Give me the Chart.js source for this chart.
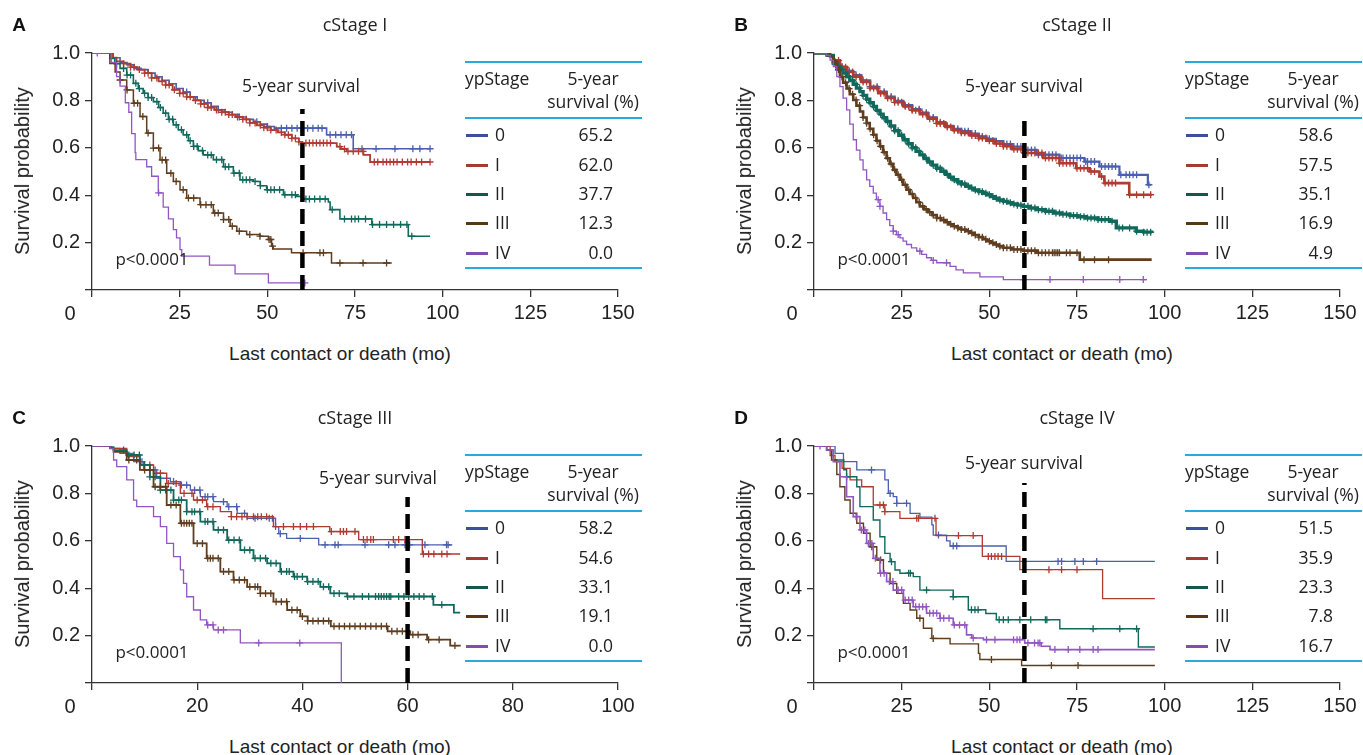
<!DOCTYPE html>
<html><head><meta charset="utf-8">
<script src="https://cdn.jsdelivr.net/npm/chart.js@4.4.0/dist/chart.umd.min.js"></script>
<style>
html,body{margin:0;padding:0;background:#fff;}
#wrap{position:relative;width:1363px;height:755px;overflow:hidden;background:#fff;}
canvas{position:absolute;}
.t{position:absolute;transform:translate(-50%,-50%);white-space:nowrap;color:#222;line-height:1;}
.ttl{font-family:'Open Sans';font-size:18px;}
.let{font-family:'Liberation Sans';font-weight:bold;font-size:19px;color:#111;}
.axx{font-family:'Liberation Sans';font-size:19px;}
.axy{font-family:'Liberation Sans';font-size:20px;transform:translate(-50%,-50%) rotate(-90deg);}
.zero{font-family:'Liberation Sans';font-size:20px;}
.note{font-family:'Open Sans';font-size:17.5px;}
.pv{font-family:'Open Sans';font-size:17px;}
.tbl{position:absolute;width:177px;height:210px;font-family:'Open Sans';font-size:17.5px;color:#222;}
.tbl .hl{position:absolute;left:0;width:177px;height:2px;background:#2aa9df;}
.tbl .c{position:absolute;transform:translateY(-50%);line-height:1;white-space:nowrap;}
.tbl .cc{position:absolute;transform:translate(-50%,-50%);line-height:1;white-space:nowrap;}
.tbl .sw{position:absolute;left:1px;width:22px;height:3px;}
.tbl .v{position:absolute;right:29px;transform:translateY(-50%);line-height:1;}
</style>
</head><body>
<div id="wrap"></div>
<script>
// ---------------- DATA ----------------
const STAGE_LABELS = ['0','I','II','III','IV'];
const PANEL_TITLES = ['cStage I','cStage II','cStage III','cStage IV'];
const PANEL_LETTERS = ['A','B','C','D'];
const FIVE_YEAR_A = ['65.2','62.0','37.7','12.3','0.0'];
const FIVE_YEAR_B = ['58.6','57.5','35.1','16.9','4.9'];
const FIVE_YEAR_C = ['58.2','54.6','33.1','19.1','0.0'];
const FIVE_YEAR_D = ['51.5','35.9','23.3','7.8','16.7'];
const X_MAX_AB = 150, X_STEP_AB = 25;
const X_MAX_C = 100, X_STEP_C = 20;
const X_MAX_D = 150, X_STEP_D = 25;
const CUTOFF_MONTH = 60;

// Panel A (cStage I): [month, survival]
const A0 = [[0,1],[5,1],[6,0.98],[8,0.96],[10,0.95],[12,0.935],[14,0.93],[16,0.915],[18,0.9],[20,0.885],[22,0.87],[24,0.85],[26,0.835],[28,0.815],[30,0.8],[32,0.79],[34,0.775],[36,0.76],[38,0.75],[40,0.74],[42,0.73],[44,0.72],[46,0.71],[48,0.7],[50,0.69],[52,0.683],[66.9,0.655],[74.5,0.596],[96.4,0.596]];
const A1 = [[0,1],[5,1],[6,0.98],[7,0.965],[9,0.955],[11,0.94],[13,0.93],[15,0.915],[17,0.895],[19,0.88],[21,0.865],[23,0.845],[25,0.83],[27,0.815],[29,0.8],[31,0.785],[33,0.77],[35,0.76],[37,0.75],[39,0.74],[41,0.73],[43,0.72],[45,0.705],[47,0.695],[49,0.685],[51,0.675],[53,0.665],[55,0.655],[57,0.64],[59,0.625],[60,0.62],[69.8,0.605],[71,0.595],[72.6,0.585],[77.4,0.57],[79.3,0.54],[96.4,0.54]];
const A2 = [[0,1],[4,1],[5.1,0.977],[6.5,0.955],[8,0.935],[9.9,0.907],[11.8,0.872],[13.2,0.85],[14.6,0.83],[16,0.812],[17.5,0.795],[19,0.77],[20.3,0.746],[21.8,0.72],[23.2,0.697],[24.6,0.676],[26,0.655],[27.5,0.63],[28.9,0.606],[30.3,0.588],[31.7,0.57],[34.6,0.55],[37.5,0.52],[40.3,0.493],[42.2,0.465],[46,0.458],[48,0.44],[49.8,0.423],[54.6,0.402],[58.4,0.395],[60.3,0.384],[67.4,0.371],[67.9,0.339],[70.7,0.3],[79.8,0.276],[90.2,0.227],[96.4,0.227]];
const A3 = [[0,1],[4,1],[5.1,0.956],[6.6,0.92],[8,0.886],[9.9,0.844],[11.8,0.788],[13.7,0.732],[15.6,0.662],[17.5,0.599],[19.4,0.549],[21.3,0.493],[23.2,0.458],[25.1,0.423],[27,0.388],[30.8,0.36],[34.6,0.325],[37.5,0.297],[39.4,0.269],[41.3,0.248],[44.1,0.234],[47.9,0.227],[50.3,0.213],[51.2,0.185],[51.7,0.173],[56.9,0.157],[68.3,0.114],[85.5,0.114]];
const A4 = [[0,1],[4,1],[5.5,0.96],[7,0.9],[8,0.86],[9.5,0.79],[10.5,0.75],[11.3,0.66],[12.3,0.58],[12.5,0.55],[15.6,0.52],[17,0.48],[18.9,0.41],[20.3,0.35],[21.8,0.3],[23.2,0.255],[24.1,0.22],[25.1,0.17],[25.6,0.143],[33.5,0.105],[40.8,0.068],[50.3,0.03],[60.7,0.03]];
// censored months
const A0c = [27,33,36,42,47,50,54,55.5,57,58.5,60,61.5,63,64.5,65.6,67.9,69.5,71,72.5,74,77,81,86.4,91.5,93.5,96.4];
const A1c = [9,11,12,13.5,15,16,17,18.5,20,21,22,23.5,25,26,27,28,29.5,31,32,33,34,35.5,37,38,39,40,41.5,43,44,45,46.5,48,49,50,51,52.5,54,55,56,57,58,59,61,62,63,64,65,66,67,68,70.7,72,73,74.5,76,77.3,80.5,81.5,83,84,85,86,87,88.5,90,91,92.5,94,96.4];
const A2c = [7,9,10,11,12.5,13.5,15,16,17,18.5,19.5,21,22,23,24,25.5,27,28,29,30,31.5,33,34,35.5,37,38,39,40.5,42,43,44,45,46.5,48,50,51,52,53.5,55,57,58,61,62,63.5,65,66.5,68.5,72,74,75,76,78,80,82,84,86,88,89.8,91.2];
const A3c = [8,10,12,13,14.5,16,17.5,19,20,21,22.5,24,26,27.5,29,31,32.5,34,35,36,37.5,39,40,42,45,47.9,50.5,51,51.5,60.2,65,66,70.7,77.3,84];
const A4c = [1.5,19,60.7];

// Panel B (cStage II)
const B0 = [[0,1],[3.6,0.99],[5.5,0.97],[7.4,0.943],[9.3,0.925],[11.2,0.907],[13.5,0.885],[16,0.858],[18.3,0.837],[20.7,0.816],[23,0.798],[25.5,0.78],[28,0.763],[30.2,0.748],[32.5,0.728],[35,0.708],[37.5,0.693],[39.7,0.68],[42,0.67],[44.5,0.66],[47,0.648],[49.2,0.638],[51.5,0.628],[54,0.616],[56.5,0.605],[59.7,0.591],[63.5,0.571],[70,0.557],[77.1,0.542],[81.4,0.521],[87.1,0.486],[95.2,0.444],[96.1,0.444]];
const B1 = [[0,1],[3.6,0.99],[5.5,0.968],[7.4,0.94],[9.3,0.92],[11.2,0.9],[13.5,0.878],[16,0.852],[18.3,0.83],[20.7,0.81],[23,0.792],[25.5,0.775],[28,0.758],[30.2,0.742],[32.5,0.723],[35,0.703],[37.5,0.688],[39.7,0.674],[42,0.663],[44.5,0.652],[47,0.641],[49.2,0.63],[51.5,0.618],[54,0.607],[56.5,0.594],[59.7,0.578],[65.4,0.557],[70,0.535],[74.8,0.514],[78.6,0.5],[81.4,0.479],[82.8,0.451],[89.9,0.402],[96.3,0.402]];
const B2 = [[0,1],[4,0.99],[5.5,0.957],[6.5,0.943],[7.4,0.93],[8.3,0.915],[9.3,0.9],[10.2,0.884],[11.2,0.868],[12.1,0.852],[13.1,0.837],[14,0.821],[15,0.805],[15.9,0.79],[16.9,0.774],[17.8,0.758],[18.8,0.742],[19.7,0.727],[20.7,0.711],[21.8,0.692],[23,0.672],[24.2,0.653],[25.5,0.634],[26.8,0.617],[28,0.6],[29.1,0.585],[30.2,0.57],[31.4,0.555],[32.5,0.54],[33.7,0.527],[35,0.514],[36.2,0.501],[37.5,0.488],[38.6,0.476],[39.7,0.465],[41,0.456],[42,0.447],[43.3,0.438],[44.5,0.43],[45.7,0.422],[47,0.415],[48.1,0.408],[49.2,0.402],[50.4,0.394],[51.5,0.387],[52.7,0.38],[54,0.374],[55.2,0.368],[56.5,0.363],[58,0.358],[59.7,0.353],[61.5,0.346],[63.5,0.339],[66,0.332],[68.3,0.325],[70.5,0.32],[73,0.314],[75.3,0.309],[77.6,0.304],[81,0.297],[84.3,0.29],[86.2,0.262],[91.9,0.248],[94,0.244],[96.3,0.24]];
const B3 = [[0,1],[4.6,0.985],[5.5,0.963],[6.5,0.93],[7.4,0.9],[8.3,0.875],[9.3,0.85],[10.2,0.826],[11.2,0.802],[12.1,0.778],[13.1,0.753],[14,0.728],[15,0.704],[15.9,0.68],[16.9,0.655],[17.8,0.63],[18.8,0.606],[19.7,0.581],[20.7,0.556],[21.6,0.532],[22.6,0.507],[23.5,0.486],[24.5,0.465],[25.4,0.444],[26.4,0.423],[27.3,0.405],[28.3,0.388],[29.2,0.37],[30.2,0.353],[31.4,0.34],[32.5,0.328],[33.7,0.316],[35,0.304],[36.2,0.295],[37.5,0.286],[38.6,0.277],[39.7,0.269],[41,0.262],[42,0.255],[43.3,0.248],[44.5,0.241],[45.7,0.232],[47,0.223],[48.1,0.214],[49.2,0.206],[50.4,0.199],[51.5,0.192],[52.7,0.185],[54,0.178],[56.5,0.171],[59.7,0.166],[63.5,0.157],[75.8,0.128],[96.3,0.128]];
const B4 = [[0,1],[3.6,0.99],[4.6,0.97],[5.5,0.943],[6.5,0.9],[7.4,0.858],[8.3,0.81],[9.3,0.76],[10.2,0.7],[11.2,0.634],[12.1,0.59],[13.1,0.549],[14,0.507],[15,0.465],[15.9,0.437],[16.9,0.409],[17.8,0.381],[18.8,0.353],[19.7,0.325],[20.7,0.297],[21.6,0.272],[22.6,0.248],[23.5,0.234],[24.5,0.22],[25.4,0.206],[26.4,0.192],[27.8,0.178],[29.3,0.164],[30.7,0.15],[32.1,0.136],[33.5,0.125],[35,0.115],[38.8,0.1],[40.5,0.085],[42.6,0.072],[47.3,0.055],[54,0.044],[94.9,0.044]];
const B0c = [8,10,12,14,16,18,20,22,24,26,28,30,32,34,36,38,40,41,42,43,44,45,46,47,48,50,52,54,55,56,57,58,59,60,61,62,63,64,65,66,67,68,69,70,70.5,71,72,73,74,75,76,77.5,78,79,80,82,83,84,85,86,87.5,89,90,91,92,95.5];
const B1c = [7,8,9,10,11,12,13,14,15,16,17,18,19,20,21,22,23,24,25,26,27,28,29,30,31,32,33,34,35,36,37,38,39,40,41,42,43,44,45,46,47,48,49,50,51,52,53,54,55,56,57,58,59,60,61,62,63,64,65,66,67,68,69,70,71,72,73,74,75,76,77,78,79,80,82,83,84,85,86,90,92,94,96];
const B2c = [6,7,8,9,10,11,12,13,14,15,16,17,18,19,20,21,22,23,24,25,26,27,28,29,30,31,32,33,34,35,36,37,38,39,40,41,42,43,44,45,46,47,48,49,50,51,52,53,54,55,56,57,58,59,60,61,62,63,64,65,66,67,68,69,70,71,72,73,74,75,76,77,78,79,80,81,82,83,84,85,87,88,90,92,94,95,96];
const B3c = [6,7,8,9,10,11,12,13,14,15,16,17,18,19,20,21,22,23,24,25,26,27,28,29,30,31,32,33,34,35,36,37,38,39,40,41,42,43,44,45,46,47,48,49,50,51,52,53,54,55,56,57,58,59,60,61,62,63,64,65,66,67,68,68.5,69,69.5,70,72,73,75,77,80,84];
const B4c = [18.3,18.8,22.6,24,30.2,34,37.8,59.7,67.3,76.8,87.2,93.9];

// Panel C (cStage III)
const C0 = [[0,1],[3.4,0.99],[5.3,0.969],[7.9,0.934],[9.8,0.899],[12.3,0.864],[14.9,0.85],[16.8,0.835],[18.7,0.814],[20.6,0.786],[23.1,0.765],[25.7,0.744],[27.6,0.716],[29.5,0.695],[34.9,0.66],[35.5,0.63],[37,0.61],[43.1,0.583],[68.5,0.583]];
const C1 = [[0,1],[3.5,0.99],[6.6,0.955],[9.1,0.92],[11.7,0.885],[14.2,0.842],[16.8,0.8],[19.3,0.772],[21.8,0.744],[24.4,0.723],[26.5,0.702],[34.5,0.66],[45.2,0.639],[50.7,0.605],[62.8,0.544],[70,0.544]];
const C2 = [[0,1],[3.5,0.995],[4.1,0.983],[6.6,0.962],[9.1,0.92],[11,0.87],[13,0.814],[15.5,0.772],[18,0.723],[20.6,0.681],[23.1,0.646],[25.7,0.603],[28.2,0.561],[30.7,0.526],[33.3,0.505],[35.8,0.47],[38.3,0.449],[40.9,0.428],[43.4,0.406],[45.3,0.378],[48.5,0.365],[64.9,0.33],[68.8,0.297],[70,0.297]];
const C3 = [[0,1],[3.5,0.99],[4.1,0.975],[6.6,0.941],[9.1,0.899],[11.7,0.828],[14.2,0.751],[16.8,0.674],[19.3,0.589],[21.8,0.526],[24.4,0.47],[26.9,0.435],[29.5,0.406],[32,0.378],[34.5,0.343],[37.1,0.308],[39.6,0.281],[41,0.262],[45.4,0.239],[56.2,0.218],[60.5,0.204],[63.7,0.183],[68.1,0.158],[70.1,0.158]];
const C4 = [[0,1],[3.4,0.99],[4.1,0.941],[4.7,0.913],[6.6,0.857],[7.9,0.772],[8.5,0.744],[11.7,0.702],[13,0.66],[14.2,0.589],[15.5,0.533],[16.8,0.477],[17.4,0.42],[18,0.364],[19.3,0.308],[20.6,0.266],[21.8,0.245],[23.1,0.224],[28.2,0.169],[47.4,0]];
const C0c = [9.5,12,15.5,17,18,19.5,20.5,21.5,22,23,25,26,27.5,29,31,33.7,34.3,34.9,35.8,39.6,44.3,46.2,46.8,51.9,56.4,57.6,59.5,60.4,63.3,67.4,67.7];
const C1c = [11,13,14.5,16,17.5,19,20,21,22,23,26.5,27.5,28.5,29.5,30.7,31.5,32.2,33.2,36.4,38.3,39.6,40.8,42.1,45.5,47.2,47.8,48.4,50,51.6,52.3,53,53.5,57.3,58.3,59.5,63,64,65,66.5,67.5];
const C2c = [6,7,8,9,10,11,12,13,14,15,15.5,16.5,17,18,19,19.5,20.5,21.5,22,23,24,25,26,27,28,29,30,31,32,33,34,35,36,37,37.5,38.5,39,40,41,42,43,44,45,46,47,48.6,49.8,51.4,52.6,53.9,54.5,55,55.5,56,56.5,56.8,58.3,59.3,60.2,61.2,62.2,63.1,64.7,66.5];
const C3c = [7,8.5,10,11,12,13,14,15,16,17,17.5,18,18.5,19,20,21,22,22.5,23,24,25,26,27,28,29,30,31,31.5,32,33,34,35,36,37,38,39,40,41,42,43,44,45,46,47,48,49,50,51,52,53,54,55,56,57,58,59,60,61,62,64,66,69];
const C4c = [22,23,24,25,31.7,39.5];

// Panel D (cStage IV)
const D0 = [[0,1],[6,0.969],[8.4,0.934],[12.2,0.899],[20.2,0.857],[21.2,0.8],[22.6,0.786],[23.6,0.758],[27.4,0.716],[30.2,0.7],[33.6,0.667],[34,0.624],[37.8,0.6],[38.8,0.578],[54.8,0.513],[97.2,0.513]];
const D1 = [[0,1],[4.6,0.96],[6,0.934],[8,0.906],[10.3,0.857],[13.6,0.828],[16.9,0.751],[20.2,0.723],[24.5,0.695],[34.8,0.622],[48,0.534],[58.7,0.478],[82.3,0.356],[97.2,0.356]];
const D2 = [[0,1],[3.6,0.983],[5.5,0.941],[8.5,0.9],[9.3,0.87],[12.2,0.828],[13.1,0.744],[16.9,0.688],[18.8,0.617],[20.2,0.547],[21.7,0.512],[23.1,0.477],[24.5,0.463],[28.3,0.449],[30.2,0.392],[39.7,0.364],[44,0.309],[49,0.293],[52,0.267],[70.1,0.229],[92.5,0.152],[97.2,0.152]];
const D3 = [[0,1],[3.6,0.983],[5,0.941],[6.5,0.88],[7.4,0.828],[8.8,0.772],[10.3,0.716],[12.2,0.674],[14.1,0.632],[16,0.575],[17.9,0.519],[19.8,0.463],[21.7,0.42],[23.6,0.378],[25.5,0.336],[27.4,0.308],[29.3,0.273],[31.2,0.231],[33.6,0.188],[38.8,0.165],[46.9,0.125],[47.3,0.099],[59.2,0.074],[97.2,0.074]];
const D4 = [[0,1],[3.6,0.983],[5.5,0.934],[7.4,0.87],[9.3,0.786],[11.2,0.702],[13.1,0.646],[15,0.589],[16.9,0.526],[18.8,0.463],[20.7,0.428],[22.6,0.392],[25.5,0.35],[28.3,0.322],[32.1,0.294],[35.9,0.273],[39.7,0.245],[43.5,0.203],[45,0.19],[48.3,0.183],[60.1,0.169],[64.8,0.155],[67.3,0.141],[97.2,0.141]];
const D0c = [16.4,21.7,23.6,26.4,35.5,39.7,40.7,69.6,70.6,74.4,76.8,80.6];
const D1c = [18.8,19.8,20.2,29.3,29.8,34.5,41.2,45.4,49.7,50.6,51.6,52.5,53.5,67,70.6,75];
const D2c = [9.3,22.1,27,27.5,32.1,39.7,44.9,45.9,46.8,52.8,54,55.4,58.7,61.8,66,66.4,79.6,87.2,92];
const D3c = [16.5,19,30.2,34,50.6,67.7,75.3];
const D4c = [1.7,12,13.5,14.5,15.5,16.5,17.5,19,20,21.5,22.5,24,25,26,27,28,29,30,31,32,33,34,35,36,37,38.5,40,41.5,43,45.4,49.2,51.6,56.9,57.9,58.7,61,62.9,63.9,64.4,68.7,72.5,75.8,79.6,81];

// ---------------- STYLE / LAYOUT ----------------
const LINE_COLORS = ['#4a5fae','#b03b31','#11695c','#5f3d1e','#9255c4'];
const SWATCH_COLORS = ['#3a509c','#a63a30','#11594f','#563716','#7d4fb2'];

const PANELS = [
  {curves:[A0,A1,A2,A3,A4], cens:[A0c,A1c,A2c,A3c,A4c], surv5:FIVE_YEAR_A, xMax:X_MAX_AB, xStep:X_STEP_AB,
   widths:[1.6,1.8,1.6,1.5,1.3], cutTop:0.764, ox:0, oy:0, five:[301,86], tbl:465},
  {curves:[B0,B1,B2,B3,B4], cens:[B0c,B1c,B2c,B3c,B4c], surv5:FIVE_YEAR_B, xMax:X_MAX_AB, xStep:X_STEP_AB,
   widths:[2.2,2.6,3.4,2.6,1.3], cutTop:0.717, ox:722, oy:0, five:[1024,86], tbl:1185},
  {curves:[C0,C1,C2,C3,C4], cens:[C0c,C1c,C2c,C3c,C4c], surv5:FIVE_YEAR_C, xMax:X_MAX_C, xStep:X_STEP_C,
   widths:[1.3,1.4,1.8,1.8,1.3], cutTop:0.785, ox:0, oy:393, five:[378,478], tbl:465},
  {curves:[D0,D1,D2,D3,D4], cens:[D0c,D1c,D2c,D3c,D4c], surv5:FIVE_YEAR_D, xMax:X_MAX_D, xStep:X_STEP_D,
   widths:[1.3,1.3,1.4,1.4,1.6], cutTop:0.844, ox:722, oy:393, five:[1024,463], tbl:1185}
];

function survAt(curve, t){
  let v = curve[0][1];
  for (const p of curve){ if (p[0] <= t) v = p[1]; else break; }
  return v;
}

const wrap = document.getElementById('wrap');
function addText(txt, x, y, cls){
  const d = document.createElement('div');
  d.className = 't ' + cls; d.textContent = txt;
  d.style.left = x + 'px'; d.style.top = y + 'px';
  wrap.appendChild(d);
}

const CANVAS_W = 640, CANVAS_H = 330;
const PLOT_LEFT = 92, PLOT_TOP = 53, PLOT_BOTTOM = 290, PLOT_RIGHT = 618;

PANELS.forEach((P, pi) => {
  const cv = document.createElement('canvas');
  cv.width = CANVAS_W; cv.height = CANVAS_H;
  cv.style.left = P.ox + 'px'; cv.style.top = P.oy + 'px';
  cv.style.width = CANVAS_W + 'px'; cv.style.height = CANVAS_H + 'px';
  wrap.appendChild(cv);

  const datasets = [];
  datasets.push({
    data:[{x:CUTOFF_MONTH,y:0},{x:CUTOFF_MONTH,y:P.cutTop}],
    borderColor:'#000', borderWidth:4.5, borderDash:[15,7], borderCapStyle:'butt',
    pointRadius:0, order:0
  });
  P.curves.forEach((c, i) => {
    datasets.push({
      data:c.map(p => ({x:p[0], y:p[1]})),
      stepped:'before', borderColor:LINE_COLORS[i], borderWidth:P.widths[i],
      pointRadius:0, fill:false, tension:0, order:10 - i
    });
    datasets.push({
      data:P.cens[i].map(t => ({x:t, y:survAt(c, t)})),
      showLine:false, pointStyle:'cross', pointRadius:3.5, pointBorderWidth:1.3,
      pointBorderColor:LINE_COLORS[i], borderColor:LINE_COLORS[i], order:10 - i
    });
  });

  const gridOpt = {drawOnChartArea:false, drawTicks:true, tickLength:7, color:'#333', lineWidth:1.3};
  new Chart(cv, {
    type:'line',
    data:{datasets},
    options:{
      responsive:false, animation:false, devicePixelRatio:1,
      layout:{padding:{left:0, top:PLOT_TOP, right:CANVAS_W - PLOT_RIGHT, bottom:0}},
      plugins:{legend:{display:false}, tooltip:{enabled:false}},
      scales:{
        x:{type:'linear', min:0, max:P.xMax,
           afterFit(s){ s.height = CANVAS_H - PLOT_BOTTOM; },
           ticks:{stepSize:P.xStep, autoSkip:false, maxRotation:0, padding:4, color:'#222',
                  font:{family:'Liberation Sans', size:20},
                  callback:v => v === 0 ? '' : String(v)},
           grid:gridOpt, border:{display:true, color:'#333', width:1.3}},
        y:{type:'linear', min:0, max:1,
           afterFit(s){ s.width = PLOT_LEFT; },
           ticks:{stepSize:0.2, padding:5, color:'#222',
                  font:{family:'Liberation Sans', size:20},
                  callback:v => v === 0 ? '' : Number(v).toFixed(1)},
           grid:gridOpt, border:{display:true, color:'#333', width:1.3}}
      }
    }
  });

  // texts
  addText(PANEL_LETTERS[pi], P.ox + 19, P.oy + 24, 'let');
  addText(PANEL_TITLES[pi], P.ox + 355, P.oy + 24, 'ttl');
  addText('Survival probability', P.ox + 22, P.oy + 171, 'axy');
  addText('Last contact or death (mo)', P.ox + 340, P.oy + 353, 'axx');
  addText('0', P.ox + 70, P.oy + 313, 'zero');
  addText('p<0.0001', P.ox + 152, P.oy + 258, 'pv');
  addText('5-year survival', P.five[0], P.five[1], 'note');

  // table
  const tb = document.createElement('div');
  tb.className = 'tbl';
  tb.style.left = P.tbl + 'px'; tb.style.top = (P.oy + 62) + 'px';
  let html = '';
  html += '<div class="hl" style="top:-1px"></div>';
  html += '<div class="c" style="left:0px;top:17px">ypStage</div>';
  html += '<div class="cc" style="left:128px;top:17px">5-year</div>';
  html += '<div class="cc" style="left:128px;top:40px">survival (%)</div>';
  html += '<div class="hl" style="top:55px"></div>';
  const rowY = [73,103,132,161,191];
  STAGE_LABELS.forEach((lab, i) => {
    html += '<div class="sw" style="top:' + (rowY[i]-1.5) + 'px;background:' + SWATCH_COLORS[i] + '"></div>';
    html += '<div class="c" style="left:30px;top:' + rowY[i] + 'px">' + lab + '</div>';
    html += '<div class="v" style="top:' + rowY[i] + 'px">' + P.surv5[i] + '</div>';
  });
  html += '<div class="hl" style="top:205px"></div>';
  tb.innerHTML = html;
  wrap.appendChild(tb);
});
</script>
</body></html>
